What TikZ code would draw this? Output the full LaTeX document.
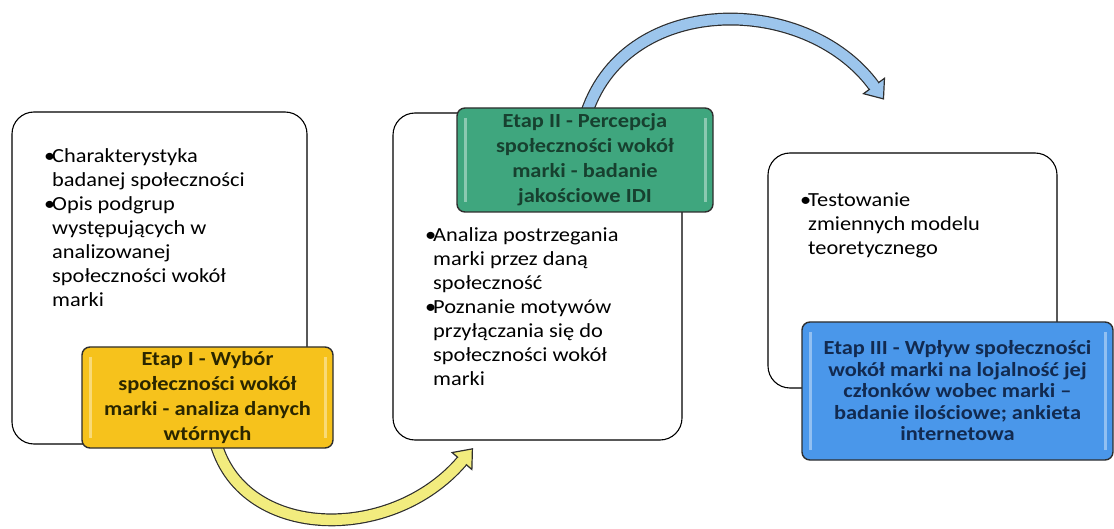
\documentclass[tikz,border=0pt]{standalone}
\usepackage{fontspec}
\setmainfont{Carlito}[FakeStretch=1.12]
\usetikzlibrary{calc}
\definecolor{ylw}{HTML}{F6C21C}
\definecolor{grn}{HTML}{3FA67E}
\definecolor{blu}{HTML}{4A97EA}
\definecolor{ylwarrow}{HTML}{F2EC7E}
\definecolor{bluarrow}{HTML}{9CC5EC}
\definecolor{outl}{HTML}{2E2E2E}
\definecolor{grntext}{HTML}{17402F}
\definecolor{blutext}{HTML}{122A50}
\definecolor{ylwtext}{HTML}{2A2600}
\newcommand\mybul{\makebox[8pt][l]{•}}
\newcommand\myind{\hspace*{8pt}}
\tikzset{
  panel/.style={draw=black, line width=1.1pt, rounded corners=22pt, fill=white},
  header/.style={draw=outl, line width=1.4pt, rounded corners=8pt, align=center,
    inner sep=0pt, font=\bfseries\fontsize{20}{25}\selectfont,
    path picture={
      \draw[white, opacity=.4, line width=3pt]
        ([xshift=8pt,yshift=-10pt]path picture bounding box.north west) --
        ([xshift=8pt,yshift=10pt]path picture bounding box.south west);
      \draw[white, opacity=.4, line width=3pt]
        ([xshift=-8pt,yshift=-10pt]path picture bounding box.north east) --
        ([xshift=-8pt,yshift=10pt]path picture bounding box.south east);}},
  bodytext/.style={anchor=north west, align=left, inner sep=0pt,
    font=\fontsize{20}{24}\selectfont},
  fatarrow/.style={line width=1.2pt, draw=outl, double distance=10.5pt},
  arrowhead/.style={draw=outl, line width=1.2pt, line join=miter},
}
\begin{document}
\begin{tikzpicture}[x=1pt, y=-1pt]
\useasboundingbox (0,0) rectangle (1114,529);

% panels
\node[panel, minimum width=295pt, minimum height=332pt] (p1) at (159.5,278) {};
\node[panel, minimum width=289pt, minimum height=327pt] (p2) at (537.5,276.5) {};
\node[panel, minimum width=289pt, minimum height=235pt] (p3) at (912.5,270.5) {};

% panel texts
\node[bodytext] (t1) at (44,148) {\mybul Charakterystyka\\ \myind badanej społeczności\\
  \mybul Opis podgrup\\ \myind występujących w\\ \myind analizowanej\\
  \myind społeczności wokół\\ \myind marki};
\node[bodytext] (t2) at (425,227) {\mybul Analiza postrzegania\\ \myind marki przez daną\\
  \myind społeczność\\ \mybul Poznanie motywów\\ \myind przyłączania się do\\
  \myind społeczności wokół\\ \myind marki};
\node[bodytext] (t3) at (800,193) {\mybul Testowanie\\ \myind zmiennych modelu\\
  \myind teoretycznego};

% arrow end coordinates
\coordinate (yend) at (462,461);
\coordinate (yc2) at (390,545);
\coordinate (bend) at (874,86);
\coordinate (bc2) at (805,-8);

% yellow arrow (from stage I to stage II)
\draw[fatarrow, double=ylwarrow] (215,440) .. controls (240,540) and (yc2) .. (yend);
\draw[arrowhead, fill=ylwarrow] ($(yend)!13pt!90:(yc2)$) -- ($(yend)!-16pt!(yc2)$)
  -- ($(yend)!13pt!-90:(yc2)$) -- cycle;
\draw[ylwarrow, line width=10pt] ($(yend)!3pt!(yc2)$) -- ($(yend)!-1.5pt!(yc2)$);

% blue arrow (from stage II to stage III)
\draw[fatarrow, double=bluarrow] (585,118) .. controls (622,-8) and (bc2) .. (bend);
\draw[arrowhead, fill=bluarrow] ($(bend)!13pt!90:(bc2)$) -- ($(bend)!-16pt!(bc2)$)
  -- ($(bend)!13pt!-90:(bc2)$) -- cycle;
\draw[bluarrow, line width=10pt] ($(bend)!3pt!(bc2)$) -- ($(bend)!-1.5pt!(bc2)$);

% headers
\node[header, fill=ylw, text=ylwtext, minimum width=251pt, minimum height=101pt]
  (yel) at (207.5,397.5) {Etap I - Wybór\\ społeczności wokół\\ marki - analiza danych\\ wtórnych};
\node[header, fill=grn, text=grntext, minimum width=256pt, minimum height=104pt]
  (gre) at (585,160) {Etap II - Percepcja\\ społeczności wokół\\ marki - badanie\\ jakościowe IDI};
\node[header, fill=blu, text=blutext, minimum width=311pt, minimum height=138pt,
  font=\bfseries\fontsize{20}{21.5}\selectfont]
  (blue) at (957.5,391) {Etap III - Wpływ społeczności\\ wokół marki na lojalność jej\\
  członków wobec marki –\\ badanie ilościowe; ankieta\\ internetowa};
\end{tikzpicture}
\end{document}
